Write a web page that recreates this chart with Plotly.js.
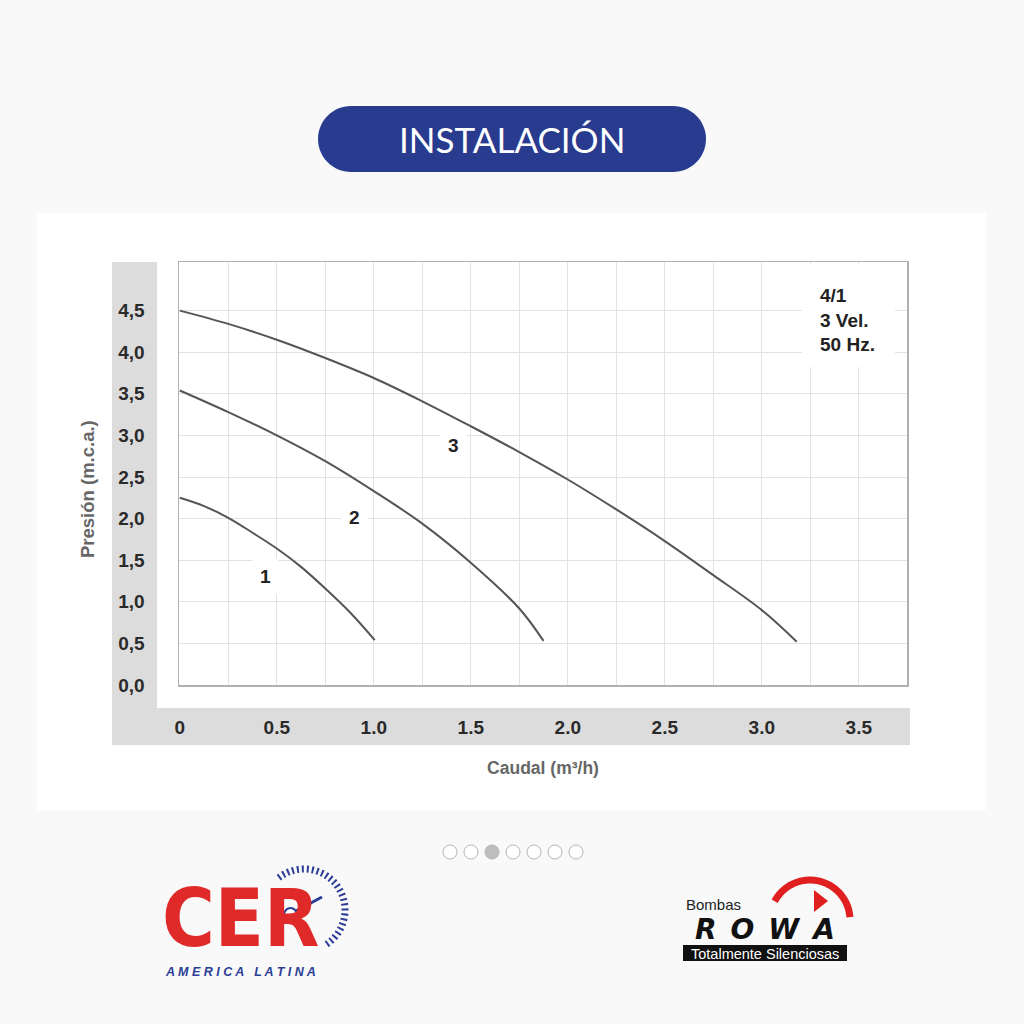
<!DOCTYPE html>
<html><head><meta charset="utf-8">
<script src="https://cdn.plot.ly/plotly-3.0.1.min.js"></script>
<style>html,body{margin:0;padding:0;background:#f9f9f9;}#chart{width:1024px;height:1024px;}</style>
</head><body><div id="chart"></div>
<script>
// ---- data ----
const caudal1 = [0, 0.125, 0.25, 0.375, 0.5, 0.625, 0.75, 0.883, 1.005];
const presion1 = [2.25, 2.15, 2.01, 1.83, 1.64, 1.42, 1.16, 0.86, 0.54];
const caudal2 = [0, 0.25, 0.5, 0.75, 1.0, 1.25, 1.5, 1.75, 1.875];
const presion2 = [3.54, 3.28, 3.00, 2.69, 2.33, 1.94, 1.47, 0.92, 0.53];
const caudal3 = [0, 0.25, 0.5, 0.75, 1.0, 1.25, 1.5, 1.75, 2.0, 2.25, 2.5, 2.75, 3.0, 3.18];
const presion3 = [4.5, 4.34, 4.15, 3.93, 3.69, 3.41, 3.11, 2.80, 2.47, 2.11, 1.73, 1.32, 0.90, 0.52];
const xTickVals = [0, 0.5, 1.0, 1.5, 2.0, 2.5, 3.0, 3.5];
const xTickText = ['0', '0.5', '1.0', '1.5', '2.0', '2.5', '3.0', '3.5'];
const yTickVals = [0, 0.5, 1.0, 1.5, 2.0, 2.5, 3.0, 3.5, 4.0, 4.5];
const yTickText = ['0,0', '0,5', '1,0', '1,5', '2,0', '2,5', '3,0', '3,5', '4,0', '4,5'];
const curveNames = ['1', '2', '3'];
const curveLabelX = [0.44, 0.90, 1.41];
const curveLabelY = [1.31, 2.01, 2.88];
const pageDots = 7, activeDot = 2;

// ---- layout helpers (pixel -> paper) ----
const L = 179, R = 907, T = 262, B = 685;
const W = R - L, H = B - T;
const px = v => (v - L) / W;
const py = v => (B - v) / H;
const XSTART = -0.004, XSCALE = 194, YSCALE = 83.2;

const FONT = 'Liberation Sans, Arial, Helvetica, sans-serif';
const lineStyle = {color: '#555555', width: 2, shape: 'spline', smoothing: 1};

const traces = [
  {x: caudal1, y: presion1, name: curveNames[0], mode: 'lines', line: lineStyle, hoverinfo: 'x+y'},
  {x: caudal2, y: presion2, name: curveNames[1], mode: 'lines', line: lineStyle, hoverinfo: 'x+y'},
  {x: caudal3, y: presion3, name: curveNames[2], mode: 'lines', line: lineStyle, hoverinfo: 'x+y'}
];

const shapes = [];
const rectPx = (x0, y0, x1, y1, fill, layer) => shapes.push({type: 'rect', xref: 'paper', yref: 'paper',
  layer: layer || 'below', x0: px(x0), x1: px(x1), y0: py(y1), y1: py(y0), fillcolor: fill, line: {width: 0}});
const arcPath = (cx, cy, r, a0, a1, step) => {
  let d = '';
  for (let a = a0; a <= a1 + 1e-9; a += step) {
    const t = a * Math.PI / 180;
    const x = cx + r * Math.sin(t), y = cy - r * Math.cos(t);
    d += (d ? ' L' : 'M') + px(x) + ',' + py(y);
  }
  return d;
};
// white card
rectPx(37, 213, 986, 810, '#ffffff');
// gray frame strips
rectPx(112, 262, 157, 745, '#dcdcdc');
rectPx(112, 708, 910, 745, '#dcdcdc');
// white box behind the model note (covers grid)
rectPx(802, 264, 895, 367, '#ffffff', 'above');
// title pill
(function(){
  const x0 = 318, x1 = 706, y0 = 106, y1 = 172, r = 33, k = 0.5523 * r;
  const P = (x, y) => px(x) + ',' + py(y);
  const d = 'M' + P(x0 + r, y0) + ' L' + P(x1 - r, y0) +
    ' C' + P(x1 - r + k, y0) + ' ' + P(x1, y0 + r - k) + ' ' + P(x1, y0 + r) +
    ' C' + P(x1, y0 + r + k) + ' ' + P(x1 - r + k, y1) + ' ' + P(x1 - r, y1) +
    ' L' + P(x0 + r, y1) +
    ' C' + P(x0 + r - k, y1) + ' ' + P(x0, y1 - r + k) + ' ' + P(x0, y1 - r) +
    ' C' + P(x0, y0 + r - k) + ' ' + P(x0 + r - k, y0) + ' ' + P(x0 + r, y0) + ' Z';
  shapes.push({type: 'path', xref: 'paper', yref: 'paper', path: d, fillcolor: '#283b8f', line: {width: 0}});
})();
// pagination dots
for (let i = 0; i < pageDots; i++) {
  const cx = 450 + i * 21, cy = 852, rr = 7;
  shapes.push({type: 'circle', xref: 'paper', yref: 'paper',
    x0: px(cx - rr), x1: px(cx + rr), y0: py(cy + rr), y1: py(cy - rr),
    fillcolor: i === activeDot ? '#bdbdbd' : '#ffffff', line: {color: '#b5b5b5', width: 1}});
}
// CER gauge ticks and needle
shapes.push({type: 'path', xref: 'paper', yref: 'paper', path: arcPath(304, 910, 41, -38, 150, 3),
  line: {color: '#2b3d96', width: 7, dash: '2px,3px'}});
shapes.push({type: 'line', xref: 'paper', yref: 'paper',
  x0: px(296), y0: py(911), x1: px(322), y1: py(897), line: {color: '#2b3d96', width: 3}});
shapes.push({type: 'circle', xref: 'paper', yref: 'paper',
  x0: px(284), x1: px(297), y0: py(922), y1: py(908), fillcolor: '#ffffff', line: {color: '#2b3d96', width: 2}});
// ROWA red swoosh, triangle and black bar
shapes.push({type: 'path', xref: 'paper', yref: 'paper', path: arcPath(810, 920, 40, -62, 88, 4),
  line: {color: '#e02020', width: 7}});
shapes.push({type: 'path', xref: 'paper', yref: 'paper',
  path: 'M' + px(814) + ',' + py(890) + ' L' + px(828) + ',' + py(901) + ' L' + px(814) + ',' + py(912) + ' Z',
  fillcolor: '#e02020', line: {width: 0}});
rectPx(683, 945, 847, 961, '#111111', 'above');

const annotations = [];
const note = (x, y, text, font, extra) => annotations.push(Object.assign({x: px(x), y: py(y), xref: 'paper', yref: 'paper',
  xanchor: 'center', yanchor: 'middle', text: text, showarrow: false, font: font}, extra || {}));

for (let i = 0; i < curveNames.length; i++) {
  annotations.push({x: curveLabelX[i], y: curveLabelY[i], xref: 'x', yref: 'y', text: curveNames[i],
    xanchor: 'center', yanchor: 'middle', showarrow: false, bgcolor: '#ffffff', borderpad: 7,
    font: {family: FONT, size: 19, color: '#222222', weight: 'bold'}});
}
note(818, 320, '4/1<br>3 Vel.<br>50 Hz.', {family: FONT, size: 19, color: '#222222', weight: 'bold'},
  {xanchor: 'left', align: 'left'});
note(512, 139, 'INSTALACIÓN', {family: 'Lato, sans-serif', size: 35, color: '#ffffff'});
note(87, 489, 'Presión (m.c.a.)', {family: FONT, size: 18.5, color: '#666666', weight: 'bold'}, {textangle: -90});
// CER logo
note(240, 918, 'CER', {family: 'Liberation Sans Narrow, DejaVu Sans Condensed, Liberation Sans, sans-serif', size: 80, color: '#e02a2a', weight: 'bold'});
note(240, 972, '<i>A M E R I C A   L A T I N A</i>', {family: FONT, size: 12.5, color: '#2b3d96', weight: 'bold'});
// ROWA logo
note(684, 905, 'Bombas', {family: FONT, size: 15, color: '#222222'}, {xanchor: 'left'});
note(765, 929, '<i>R\u2002O\u2002W\u2002A</i>', {family: 'DejaVu Sans, sans-serif', size: 28, color: '#111111', weight: 'bold'});
note(765, 954, 'Totalmente Silenciosas', {family: FONT, size: 14.5, color: '#ffffff'});

const layout = {
  width: 1024, height: 1024, autosize: false,
  margin: {l: L, r: 1024 - R, t: T, b: 1024 - B, pad: 0},
  paper_bgcolor: '#f9f9f9', plot_bgcolor: '#ffffff',
  showlegend: false,
  font: {family: FONT},
  xaxis: {
    range: [XSTART, XSTART + W / XSCALE], fixedrange: true,
    tickmode: 'array', tickvals: xTickVals, ticktext: xTickText,
    ticks: '', ticklabelstandoff: 25,
    tickfont: {family: FONT, size: 19, color: '#2a2a2a', weight: 'bold'},
    showgrid: false,
    minor: {tickmode: 'linear', tick0: 0, dtick: 0.25, ticks: '', showgrid: true, gridcolor: '#e2e2e2', gridwidth: 1},
    showline: true, mirror: true, linecolor: '#b0b0b0', linewidth: 1.5,
    zeroline: false,
    title: {text: 'Caudal (m³/h)', standoff: 24, font: {family: FONT, size: 17.5, color: '#666666', weight: 'bold'}}
  },
  yaxis: {
    range: [0, H / YSCALE], fixedrange: true,
    tickmode: 'array', tickvals: yTickVals, ticktext: yTickText,
    ticks: '', ticklabelstandoff: 29,
    tickfont: {family: FONT, size: 19, color: '#2a2a2a', weight: 'bold'},
    showgrid: true, gridcolor: '#e2e2e2', gridwidth: 1,
    showline: true, mirror: true, linecolor: '#b0b0b0', linewidth: 1.5,
    zeroline: false
  },
  shapes: shapes,
  annotations: annotations
};

Plotly.newPlot('chart', traces, layout, {displayModeBar: false, staticPlot: true});
</script>
</body></html>
